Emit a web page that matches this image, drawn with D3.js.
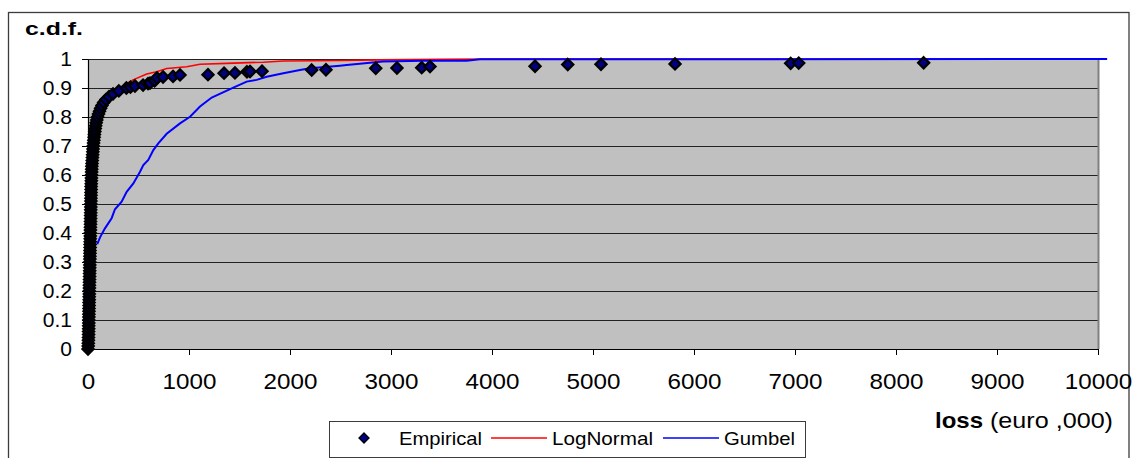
<!DOCTYPE html>
<html>
<head>
<meta charset="utf-8">
<script src="https://cdn.jsdelivr.net/npm/d3@7"></script>
<style>
  html, body { margin: 0; padding: 0; background: #fff; }
  svg { display: block; font-family: "Liberation Sans", Arial, sans-serif; }
</style>
</head>
<body>
<svg id="chart" width="1134" height="458"></svg>
<script>
// ---------------- DATA ----------------
const xTicks = [0, 1000, 2000, 3000, 4000, 5000, 6000, 7000, 8000, 9000, 10000];
const yTicks = [0, 0.1, 0.2, 0.3, 0.4, 0.5, 0.6, 0.7, 0.8, 0.9, 1];
const yTickLabels = ["0", "0.1", "0.2", "0.3", "0.4", "0.5", "0.6", "0.7", "0.8", "0.9", "1"];
const seriesNames = ["Empirical", "LogNormal", "Gumbel"];

// Empirical c.d.f. (loss, cdf)
const empiricalLoss = [
  0, 2, 3, 4, 5, 6, 6, 7, 7, 8, 8, 9, 9, 10, 10, 11, 11, 12, 12, 13,
  13, 14, 14, 15, 15, 16, 16, 17, 17, 18, 18, 19, 19, 20, 20, 21, 21, 22, 22, 23,
  23, 24, 24, 25, 25, 26, 26, 27, 27, 28, 28, 29, 29, 30, 30, 31, 31, 32, 33, 34,
  35, 36, 37, 38, 40, 42, 44, 46, 48, 50, 52, 55, 58, 61, 64, 68, 72, 76, 81, 87,
  95, 104, 114, 125, 138, 155, 178, 208, 248, 305, 380,
  420, 465, 545, 594, 614, 660, 683, 743, 842, 911, 1188, 1347, 1455, 1574, 1604, 1723,
  2215, 2356, 2849, 3059, 3304, 3386, 4426, 4750, 5079, 5812, 6957, 7037, 8274
];
const empiricalCdf = [
  0.00, 0.01, 0.02, 0.03, 0.04, 0.05, 0.06, 0.07, 0.08, 0.09, 0.10, 0.11, 0.12, 0.13, 0.14, 0.15, 0.16, 0.17, 0.18, 0.19,
  0.20, 0.21, 0.22, 0.23, 0.24, 0.25, 0.26, 0.27, 0.28, 0.29, 0.30, 0.31, 0.32, 0.33, 0.34, 0.35, 0.36, 0.37, 0.38, 0.39,
  0.40, 0.41, 0.42, 0.43, 0.44, 0.45, 0.46, 0.47, 0.48, 0.49, 0.50, 0.51, 0.52, 0.53, 0.54, 0.55, 0.56, 0.57, 0.58, 0.59,
  0.60, 0.61, 0.62, 0.63, 0.64, 0.65, 0.66, 0.67, 0.68, 0.69, 0.70, 0.71, 0.72, 0.73, 0.74, 0.75, 0.76, 0.77, 0.78, 0.79,
  0.80, 0.81, 0.82, 0.83, 0.84, 0.85, 0.86, 0.87, 0.88, 0.89, 0.90,
  0.903, 0.907, 0.910, 0.915, 0.917, 0.925, 0.935, 0.938, 0.940, 0.945, 0.946, 0.951, 0.952, 0.956, 0.957, 0.958,
  0.962, 0.963, 0.968, 0.969, 0.970, 0.974, 0.975, 0.981, 0.982, 0.983, 0.985, 0.986, 0.987
];

// LogNormal fitted c.d.f.
const lognormLoss = [0, 5, 10, 20, 40, 70, 100, 150, 200, 250, 333, 446, 581, 680, 779, 977, 1109, 1373, 1736, 1934, 2228, 2500, 2891, 3500, 4000, 10090];
const lognormCdf  = [0, 0.10, 0.30, 0.50, 0.65, 0.74, 0.79, 0.835, 0.86, 0.88, 0.905, 0.928, 0.948, 0.956, 0.967, 0.973, 0.982, 0.985, 0.989, 0.993, 0.994, 0.995, 0.997, 0.999, 1, 1];

// Gumbel fitted c.d.f.
const gumbelLoss = [92, 119, 168, 234, 267, 333, 383, 449, 515, 548, 597, 647, 696, 779, 911, 1010, 1109, 1225, 1439, 1571, 1670, 1769, 1934, 2099, 2198, 2495, 2561, 2921, 3317, 3749, 3881, 10090];
const gumbelCdf  = [0.362, 0.385, 0.416, 0.451, 0.482, 0.508, 0.542, 0.571, 0.611, 0.634, 0.652, 0.686, 0.709, 0.742, 0.778, 0.801, 0.836, 0.867, 0.901, 0.922, 0.928, 0.939, 0.951, 0.962, 0.968, 0.977, 0.979, 0.991, 0.994, 0.994, 0.999, 1];

// ---------------- CHART ----------------
const svg = d3.select("#chart");
const plot = { left: 88, right: 1098, top: 59, bottom: 349 };

const x = d3.scaleLinear().domain([0, 10000]).range([plot.left, plot.right]);
const y = d3.scaleLinear().domain([0, 1]).range([plot.bottom, plot.top]);

function stretch(sel, f) {
  sel.each(function () {
    const w = this.getComputedTextLength();
    d3.select(this).attr("textLength", w * f).attr("lengthAdjust", "spacingAndGlyphs");
  });
}

// outer chart border
svg.append("rect")
  .attr("x", 8.5).attr("y", 12.5).attr("width", 1120.5).attr("height", 470)
  .attr("fill", "none").attr("stroke", "#3c3c3c").attr("stroke-width", 1.3);

// plot area background
svg.append("rect")
  .attr("x", plot.left).attr("y", plot.top)
  .attr("width", plot.right - plot.left).attr("height", plot.bottom - plot.top)
  .attr("fill", "#C0C0C0");

// gridlines
svg.append("g").selectAll("line").data(yTicks.slice(1)).join("line")
  .attr("x1", plot.left).attr("x2", plot.right)
  .attr("y1", d => Math.round(y(d)) + 0.5).attr("y2", d => Math.round(y(d)) + 0.5)
  .attr("stroke", "#222").attr("stroke-width", 1);

// right border of plot area
svg.append("line")
  .attr("x1", plot.right + 0.5).attr("x2", plot.right + 0.5)
  .attr("y1", plot.top).attr("y2", plot.bottom)
  .attr("stroke", "#808080").attr("stroke-width", 2);

// axes
const yAxis = svg.append("g")
  .attr("transform", `translate(${plot.left},0)`)
  .call(d3.axisLeft(y).tickValues(yTicks).tickFormat((d, i) => yTickLabels[i]).tickSize(6).tickPadding(10).tickSizeOuter(0));
yAxis.select(".domain").attr("stroke", "#000").attr("stroke-width", 1.2);
yAxis.selectAll(".tick line").attr("stroke", "#000");
yAxis.selectAll(".tick text").attr("font-size", 20).attr("fill", "#000")
  .attr("font-family", "'Liberation Sans', Arial, sans-serif");
stretch(yAxis.selectAll(".tick text"), 1.05);

const xAxis = svg.append("g")
  .attr("transform", `translate(0,${plot.bottom})`)
  .call(d3.axisBottom(x).tickValues(xTicks).tickFormat(d3.format("d")).tickSize(6).tickPadding(10).tickSizeOuter(0));
xAxis.select(".domain").attr("stroke", "#000").attr("stroke-width", 1.2);
xAxis.selectAll(".tick line").attr("stroke", "#000");
xAxis.selectAll(".tick text").attr("font-size", 22).attr("fill", "#000")
  .attr("font-family", "'Liberation Sans', Arial, sans-serif")
  .attr("y", 40).attr("dy", 0);
stretch(xAxis.selectAll(".tick text"), 1.1);

// lines
const lineGen = d3.line().x(d => x(d[0])).y(d => y(d[1]));
const lognormPts = lognormLoss.map((v, i) => [v, lognormCdf[i]]);
const gumbelPts = gumbelLoss.map((v, i) => [v, gumbelCdf[i]]);

svg.append("path").datum(lognormPts)
  .attr("d", lineGen).attr("fill", "none").attr("stroke", "#FF0000").attr("stroke-width", 1.6);
svg.append("path").datum(gumbelPts)
  .attr("d", lineGen).attr("fill", "none").attr("stroke", "#0000FF").attr("stroke-width", 2);

// empirical diamonds
const diamond = "M0,-5.6L5.6,0L0,5.6L-5.6,0Z";
const empPts = empiricalLoss.map((v, i) => [v, empiricalCdf[i]]);
svg.append("g").selectAll("path").data(empPts).join("path")
  .attr("d", diamond)
  .attr("transform", d => `translate(${x(d[0])},${y(d[1])})`)
  .attr("fill", "#000080").attr("stroke", "#000").attr("stroke-width", 2.2);

// title "c.d.f."
svg.append("text").attr("x", 25).attr("y", 35)
  .attr("font-size", 18).attr("font-weight", "bold").attr("fill", "#000")
  .attr("textLength", 58).attr("lengthAdjust", "spacingAndGlyphs")
  .text("c.d.f.");

// x axis label
svg.append("text").attr("x", 935).attr("y", 428)
  .attr("font-size", 22).attr("font-weight", "bold").attr("fill", "#000")
  .attr("textLength", 48).attr("lengthAdjust", "spacingAndGlyphs")
  .text("loss");
svg.append("text").attr("x", 990).attr("y", 428)
  .attr("font-size", 22).attr("fill", "#000")
  .attr("textLength", 123).attr("lengthAdjust", "spacingAndGlyphs")
  .text("(euro ,000)");

// legend
const lg = svg.append("g");
lg.append("rect").attr("x", 329.5).attr("y", 421.5).attr("width", 476).attr("height", 36)
  .attr("fill", "#fff").attr("stroke", "#3c3c3c").attr("stroke-width", 1);
lg.append("path").attr("d", "M0,-5L5,0L0,5L-5,0Z").attr("transform", "translate(364,438)")
  .attr("fill", "#000080").attr("stroke", "#000").attr("stroke-width", 1.3);
lg.append("line").attr("x1", 491).attr("x2", 547).attr("y1", 438).attr("y2", 438)
  .attr("stroke", "#FF0000").attr("stroke-width", 1.6);
lg.append("line").attr("x1", 663).attr("x2", 719).attr("y1", 438).attr("y2", 438)
  .attr("stroke", "#0000FF").attr("stroke-width", 1.6);
const legendText = [[399, 83], [552, 101], [724, 71]];
seriesNames.forEach((name, i) => {
  lg.append("text").attr("x", legendText[i][0]).attr("y", 444.5)
    .attr("font-size", 19).attr("fill", "#000")
    .attr("textLength", legendText[i][1]).attr("lengthAdjust", "spacingAndGlyphs")
    .text(name);
});
</script>
</body>
</html>
